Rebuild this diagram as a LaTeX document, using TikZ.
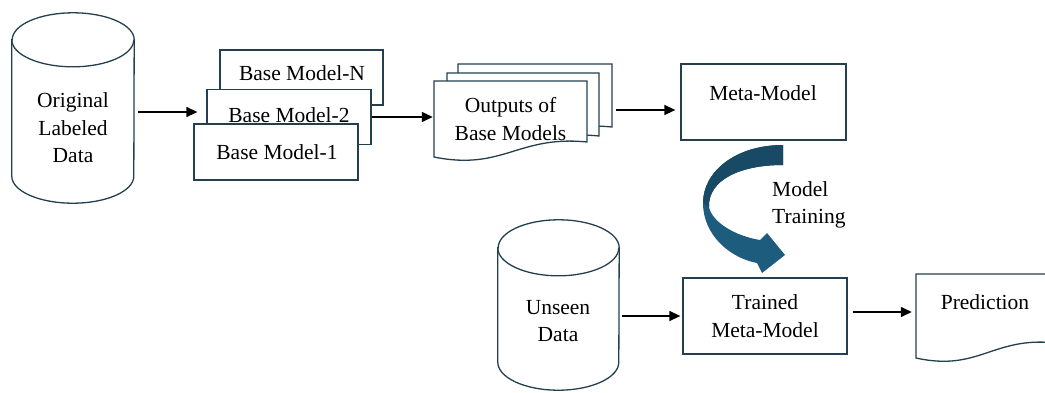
\documentclass[tikz,border=0pt]{standalone}
\usepackage{fontspec}
\setmainfont{Liberation Serif}
\usetikzlibrary{arrows.meta}

\definecolor{edgeblue}{HTML}{24404F}
\definecolor{bendtop}{HTML}{184A66}
\definecolor{bendlow}{HTML}{1E5C7E}

\tikzset{
  box/.style={draw=edgeblue, line width=1.3pt, fill=white, minimum width=164pt, minimum height=55pt, inner sep=0pt},
  store/.style={minimum width=122pt, inner sep=0pt},
  arrow/.style={->, line width=1.4pt},
  txt/.style={align=center, inner sep=0pt},
}

% sheet with a wavy lower edge: x, y, width, height
\newcommand{\docsheet}[4]{%
  \draw[draw=edgeblue, line width=1.3pt, fill=white]
    (#1,#2) -- ({#1+#3},#2) -- ({#1+#3},{#2+#4-15})
    .. controls ({#1+0.55*#3},{#2+#4-22}) and ({#1+0.45*#3},{#2+#4+14}) .. (#1,{#2+#4}) -- cycle;}

% drum round a store node: node, x radius, y radius
\newcommand{\drum}[3]{%
  \draw[draw=edgeblue, line width=1.3pt, fill=white]
    ([yshift=-#3]#1.north west) -- ([yshift=#3]#1.south west)
    arc[start angle=180, end angle=360, x radius=#2, y radius=#3]
    -- ([yshift=-#3]#1.north east)
    arc[start angle=0, end angle=180, x radius=#2, y radius=#3] -- cycle;
  \draw[draw=edgeblue, line width=1.3pt] ([yshift=-#3]#1.north west)
    arc[start angle=180, end angle=360, x radius=#2, y radius=#3];}

\begin{document}
\begin{tikzpicture}[x=1pt,y=-1pt,>={Triangle[length=11pt,width=10pt]},font=\fontsize{21.5}{27.5}\selectfont]
\useasboundingbox (0,0) rectangle (1045,392);

% training data
\node[store, minimum height=190pt] (orig) at (73,108) {};
\drum{orig}{61pt}{27pt}
\node[txt] (origtxt) at (73,128) {Original\\Labeled\\Data};

% base models, back to front
\node[box, minimum width=163pt] (bmN) at (301.5,77.5) {};
\node[txt] (bmNtxt) at (302,73) {Base Model-N};
\node[box] (bm2) at (289,117) {};
\node[txt] (bm2txt) at (289,115) {Base Model-2};
\node[box, minimum height=56pt] (bm1) at (276,152) {};
\node[txt] (bm1txt) at (277,152) {Base Model-1};

% outputs
\docsheet{458}{64}{154}{78}
\docsheet{447}{73}{152}{78}
\docsheet{434}{81}{153}{76}
\node[txt, minimum width=153pt, minimum height=76pt] (outs) at (510.5,119) {Outputs of\\Base Models};

\node[box, minimum width=165pt, minimum height=76pt] (meta) at (763.5,102) {};
\node[txt] (metatxt) at (763,93) {Meta-Model};

% bent arrow
\fill[bendlow] (783,145) .. controls (735,145) and (703,172) .. (703,203)
  .. controls (703,235) and (730,258) .. (757,263) -- (762,273) -- (785,255) -- (767,233) -- (760,240)
  .. controls (735,236) and (712,222) .. (709,207) .. controls (708,180) and (740,165) .. (783,165) -- cycle;
\fill[bendtop] (783,145) .. controls (735,145) and (703,172) .. (703,203) -- (709,207)
  .. controls (708,180) and (740,165) .. (783,165) -- cycle;
\node[anchor=west, align=left, inner sep=0pt] (traintxt) at (772,205) {Model\\Training};

% new data
\node[store, minimum width=121pt, minimum height=170pt] (unseen) at (558.5,305) {};
\drum{unseen}{60.5pt}{28pt}
\node[txt] (unseentxt) at (558,321) {Unseen\\Data};
\node[box, minimum height=76pt] (trained) at (765,316) {};
\node[txt] (trainedtxt) at (765,316) {Trained\\Meta-Model};
\docsheet{916}{274}{140}{84}
\node[txt, minimum width=140pt, minimum height=84pt] (pred) at (986,316) {};
\node[txt] (predtxt) at (985,302) {Prediction};

\draw[arrow, shorten <=4pt, shorten >=9pt] ([yshift=-4pt]orig.east) -- ([yshift=-4pt]orig.east -| bm2.west);
\draw[arrow, shorten >=1pt] (bm2.east) -- (bm2.east -| outs.west);
\draw[arrow, shorten <=29pt, shorten >=5pt] ([yshift=-8pt]meta.west -| outs.east) -- ([yshift=-8pt]meta.west);
\draw[arrow, shorten <=3pt, shorten >=2pt] (trained.west -| unseen.east) -- (trained.west);
\draw[arrow, shorten <=5pt, shorten >=4pt] ([yshift=4pt]trained.east) -- ([yshift=4pt]trained.east -| pred.west);
\end{tikzpicture}
\end{document}
